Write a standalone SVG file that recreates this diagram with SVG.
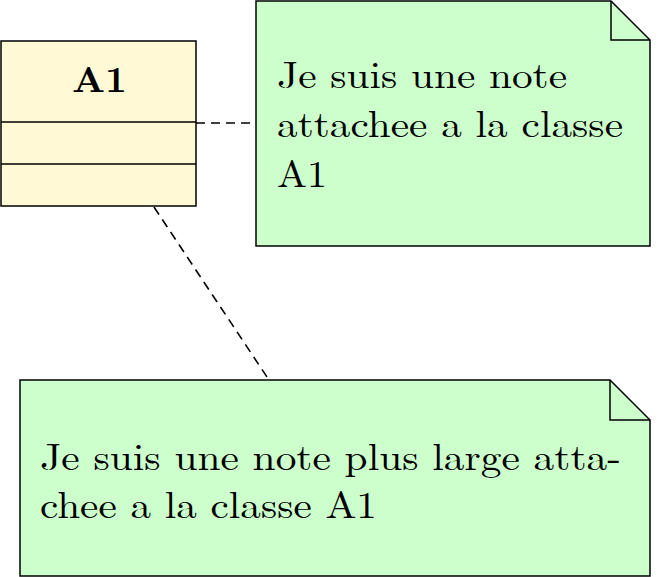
<svg xmlns="http://www.w3.org/2000/svg" width="666" height="577" viewBox="0 0 666 577">
<style>
.cls{fill:#fff9d6;stroke:#000;stroke-width:1.5}
.note{fill:#ccffcc;stroke:#000;stroke-width:1.5;stroke-linejoin:miter}
.fold{fill:none;stroke:#000;stroke-width:1.5}
.conn{fill:none;stroke:#000;stroke-width:1.6;stroke-dasharray:9 6}
.t{font-family:"Latin Modern Roman","Liberation Serif","DejaVu Serif",serif;font-size:38px;fill:#000}
.b{font-family:"Latin Modern Roman","Liberation Serif","DejaVu Serif",serif;font-size:36px;font-weight:bold;fill:#000}
</style>
<rect width="666" height="577" fill="#fff"/>
<g id="connectors">
<line class="conn" x1="196" y1="123" x2="256" y2="123"/>
<line class="conn" x1="154" y1="207" x2="269" y2="380"/>
</g>
<g id="A1">
<rect class="cls" x="1" y="41" width="195" height="165"/>
<line class="fold" x1="1" y1="122" x2="196" y2="122"/>
<line class="fold" x1="1" y1="164" x2="196" y2="164"/>
<text class="b" x="72" y="92" textLength="55" lengthAdjust="spacingAndGlyphs">A1</text>
</g>
<g id="note1">
<path class="note" d="M256,1 H611 L650,40 V246 H256 Z"/>
<path class="fold" d="M611,1 V40 H650"/>
<text class="t" x="277" y="88" textLength="290" lengthAdjust="spacingAndGlyphs">Je suis une note</text>
<text class="t" x="277" y="137" textLength="346" lengthAdjust="spacingAndGlyphs">attachee a la classe</text>
<text class="t" x="277" y="187" textLength="50" lengthAdjust="spacingAndGlyphs">A1</text>
</g>
<g id="note2">
<path class="note" d="M20,380 H610 L650,420 V576 H20 Z"/>
<path class="fold" d="M610,380 V420 H650"/>
<text class="t" x="40" y="470" textLength="581" lengthAdjust="spacingAndGlyphs">Je suis une note plus large atta-</text>
<text class="t" x="40" y="518" textLength="337" lengthAdjust="spacingAndGlyphs">chee a la classe A1</text>
</g>
</svg>
